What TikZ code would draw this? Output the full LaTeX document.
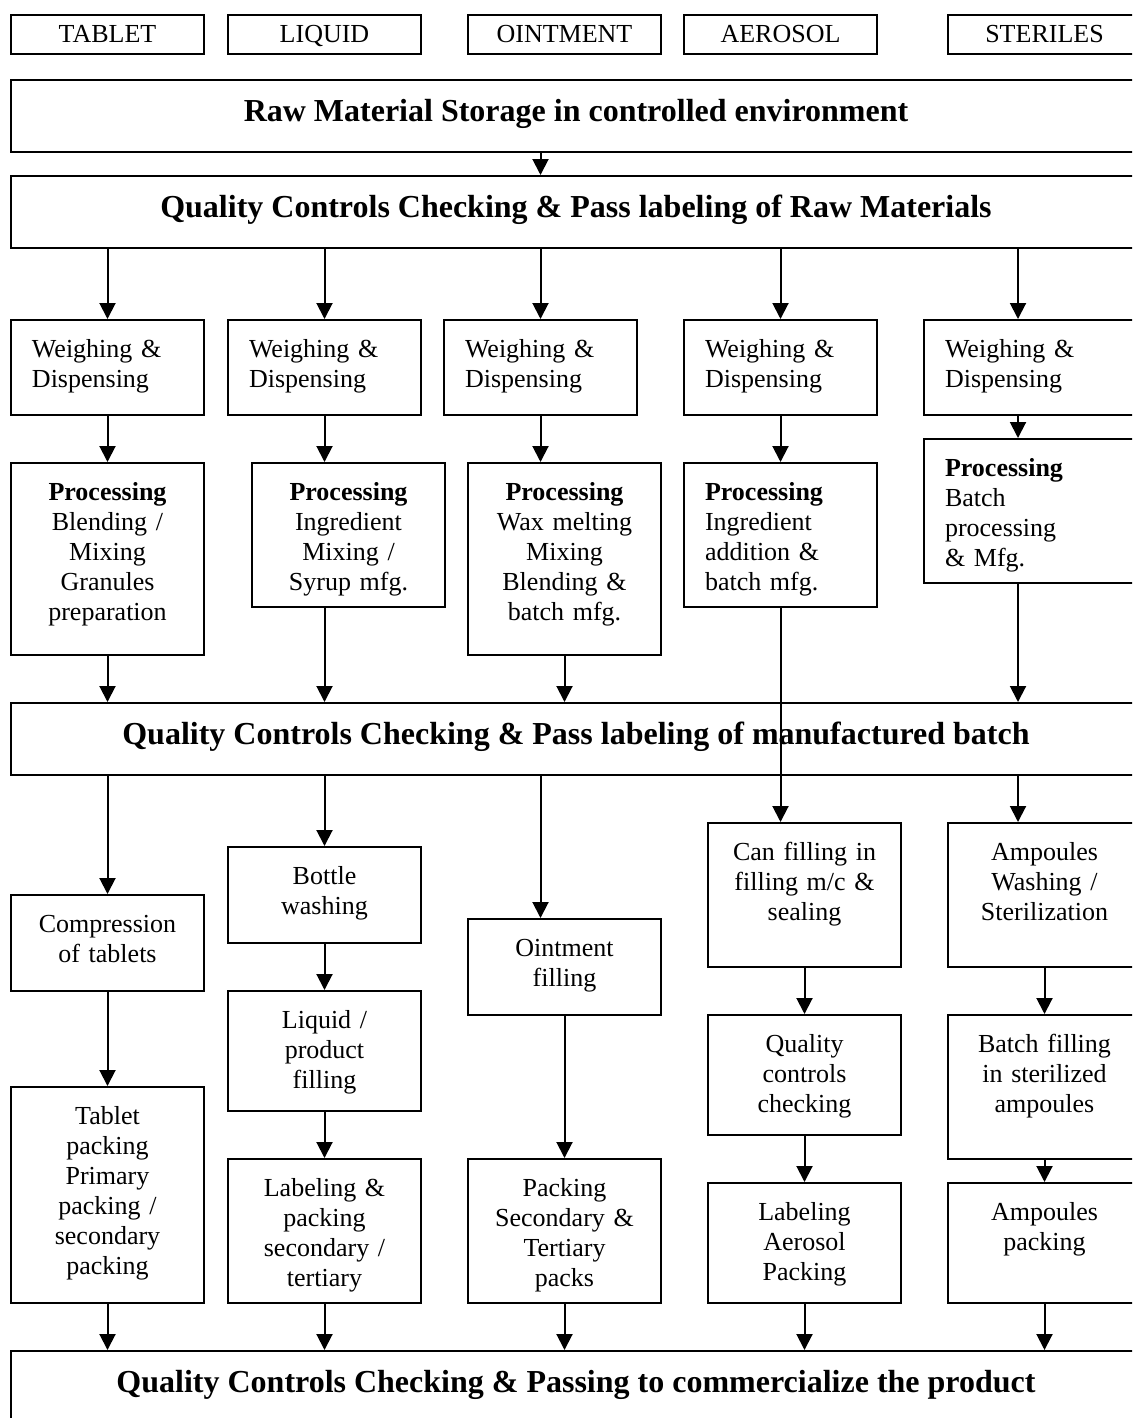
\documentclass[tikz,border=0pt]{standalone}
\usepackage{fontspec}
\setmainfont{Liberation Serif}
\usetikzlibrary{arrows.meta}

\tikzset{
	box/.style={draw, line width=1pt, anchor=north west, inner ysep=0pt},
	cat/.style={box, minimum width=96.5pt, text height=13.75pt, text depth=5.75pt, font=\fontsize{13}{15}\selectfont},
	band/.style={box, minimum width=565pt, text height=20.5pt, text depth=15.5pt, font=\bfseries\fontsize{16}{19}\selectfont},
	stage/.style={box, inner xsep=4pt, text width=88.5pt, align=center, text height=18.5pt, font=\fontsize{13}{15}\selectfont},
	stagel/.style={stage, inner xsep=10.5pt, text width=75.5pt, align=left},
	wide/.style={text width=87.5pt},
	tall/.style={text depth=#1*0.5pt-18.5pt},
	arr/.style={-{Triangle[length=8pt,width=8pt]}, line width=1pt}
}

\begin{document}
\begin{tikzpicture}[x=0.5pt,y=-0.5pt]
	\useasboundingbox (0,0) rectangle (1132,1418);
	\clip (0,0) rectangle (1132,1418);
	\coordinate (k5) at (1018,0);

	% dosage forms
	\node[cat] (tablet) at (10,14) {TABLET};
	\node[cat] (liquid) at (227,14) {LIQUID};
	\node[cat] (ointment) at (467,14) {OINTMENT};
	\node[cat] (aerosol) at (683,14) {AEROSOL};
	\node[cat] (steriles) at (947,14) {STERILES};

	\node[band] (raw) at (10,79) {Raw Material Storage in controlled environment};
	\node[band] (qc1) at (10,175) {Quality Controls Checking \& Pass labeling of Raw Materials};

	\node[stagel, tall=95] (w1) at (10,319) {Weighing \&\\Dispensing};
	\node[stagel, tall=95] (w2) at (227,319) {Weighing \&\\Dispensing};
	\node[stagel, tall=95] (w3) at (443,319) {Weighing \&\\Dispensing};
	\node[stagel, tall=95] (w4) at (683,319) {Weighing \&\\Dispensing};
	\node[stagel, wide, tall=95] (w5) at (923,319) {Weighing \&\\Dispensing};

	\node[stage, tall=192] (p1) at (10,462) {\textbf{Processing}\\Blending /\\Mixing\\Granules\\preparation};
	\node[stage, tall=144] (p2) at (251,462) {\textbf{Processing}\\Ingredient\\Mixing /\\Syrup mfg.};
	\node[stage, tall=192] (p3) at (467,462) {\textbf{Processing}\\Wax melting\\Mixing\\Blending \&\\batch mfg.};
	\node[stagel, tall=144] (p4) at (683,462) {\textbf{Processing}\\Ingredient\\addition \&\\batch mfg.};
	\node[stagel, wide, tall=144] (p5) at (923,438) {\textbf{Processing}\\Batch\\processing\\\& Mfg.};

	\node[band] (qc2) at (10,702) {Quality Controls Checking \& Pass labeling of manufactured batch};

	% tablet
	\node[stage, tall=96] (t1) at (10,894) {Compression\\of tablets};
	\node[stage, tall=216] (t2) at (10,1086) {Tablet\\packing\\Primary\\packing /\\secondary\\packing};
	% liquid
	\node[stage, tall=96] (l1) at (227,846) {Bottle\\washing};
	\node[stage, tall=120] (l2) at (227,990) {Liquid /\\product\\filling};
	\node[stage, tall=144] (l3) at (227,1158) {Labeling \&\\packing\\secondary /\\tertiary};
	% ointment
	\node[stage, tall=96] (o1) at (467,918) {Ointment\\filling};
	\node[stage, tall=144] (o2) at (467,1158) {Packing\\Secondary \&\\Tertiary\\packs};
	% aerosol
	\node[stage, tall=144] (a1) at (707,822) {Can filling in\\filling m/c \&\\sealing};
	\node[stage, tall=120] (a2) at (707,1014) {Quality\\controls\\checking};
	\node[stage, tall=120] (a3) at (707,1182) {Labeling\\Aerosol\\Packing};
	% steriles
	\node[stage, tall=144] (s1) at (947,822) {Ampoules\\Washing /\\Sterilization};
	\node[stage, tall=144] (s2) at (947,1014) {Batch filling\\in sterilized\\ampoules};
	\node[stage, tall=120] (s3) at (947,1182) {Ampoules\\packing};

	\node[band, text depth=45pt] (qc3) at (10,1350) {Quality Controls Checking \& Passing to commercialize the product};

	\draw[arr] (raw.south -| w3.north) -- (qc1.north -| w3.north);
	\draw[arr] (qc1.south -| w1.north) -- (w1.north);
	\draw[arr] (qc1.south -| w2.north) -- (w2.north);
	\draw[arr] (qc1.south -| w3.north) -- (w3.north);
	\draw[arr] (qc1.south -| w4.north) -- (w4.north);
	\draw[arr] (qc1.south -| k5) -- (w5.north -| k5);

	\draw[arr] (w1.south) -- (p1.north);
	\draw[arr] (w2.south) -- (w2.south |- p2.north);
	\draw[arr] (w3.south) -- (w3.south |- p3.north);
	\draw[arr] (w4.south) -- (p4.north);
	\draw[arr] (w5.south -| k5) -- (p5.north -| k5);

	\draw[arr] (p1.south) -- (p1.south |- qc2.north);
	\draw[arr] (p2.south -| w2.south) -- (qc2.north -| w2.south);
	\draw[arr] (p3.south) -- (p3.south |- qc2.north);
	\draw[arr] (p4.south) -- (p4.south |- a1.north);
	\draw[arr] (p5.south -| k5) -- (qc2.north -| k5);

	\draw[arr] (qc2.south -| t1.north) -- (t1.north);
	\draw[arr] (qc2.south -| l1.north) -- (l1.north);
	\draw[arr] (qc2.south -| w3.south) -- (o1.north -| w3.south);
	\draw[arr] (qc2.south -| k5) -- (s1.north -| k5);

	\draw[arr] (t1) -- (t2);
	\draw[arr] (l1) -- (l2);
	\draw[arr] (l2) -- (l3);
	\draw[arr] (o1) -- (o2);
	\draw[arr] (a1) -- (a2);
	\draw[arr] (a2) -- (a3);
	\draw[arr] (s1) -- (s2);
	\draw[arr] (s2) -- (s3);

	\foreach \n in {t2,l3,o2,a3,s3}
		\draw[arr] (\n.south) -- (\n.south |- qc3.north);
\end{tikzpicture}
\end{document}
